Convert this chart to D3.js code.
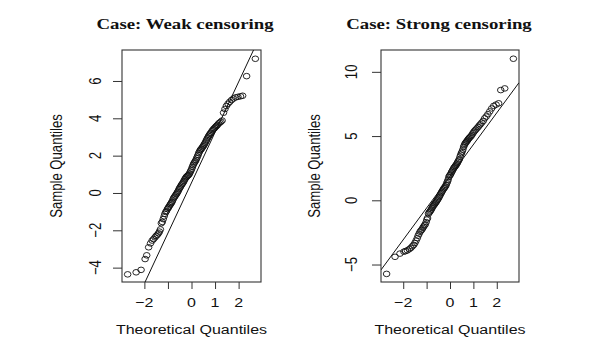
<!DOCTYPE html>
<html>
<head>
<meta charset="utf-8">
<script src="https://cdn.jsdelivr.net/npm/d3@7"></script>
<style>
  body { margin: 0; background: #fff; }
  text { font-family: "Liberation Sans", Arial, sans-serif; fill: #111; }
</style>
</head>
<body>
<script>
// Two normal QQ plots side by side (weak vs strong censoring)

// theoretical quantiles (shared by both panels)
let theoQ = [-2.71, -2.35, -2.14, -1.97, -1.90, -1.82, -1.74, -1.67, -1.61, -1.55,
             -1.50, -1.45, -1.40, -1.36, -1.32, -1.28, -1.24, -1.20, -1.16, -1.13,
             -1.09, -1.06, -1.02, -0.99, -0.96, -0.92, -0.89, -0.86, -0.83, -0.80,
             -0.77, -0.74, -0.71, -0.68, -0.65, -0.62, -0.59, -0.56, -0.53, -0.50,
             -0.47, -0.44, -0.41, -0.38, -0.35, -0.32, -0.29, -0.26, -0.23, -0.20,
             -0.17, -0.14, -0.11, -0.08, -0.05, -0.02, 0.01, 0.04, 0.07, 0.10,
             0.13, 0.16, 0.19, 0.22, 0.25, 0.28, 0.31, 0.34, 0.37, 0.40,
             0.43, 0.46, 0.49, 0.52, 0.55, 0.58, 0.61, 0.64, 0.67, 0.70,
             0.73, 0.76, 0.79, 0.82, 0.86, 0.90, 0.94, 0.98, 1.02, 1.06,
             1.10, 1.15, 1.20, 1.25, 1.30, 1.36, 1.42, 1.48, 1.55, 1.62,
             1.70, 1.78, 1.87, 1.97, 2.08, 2.17, 2.34, 2.71];

// sample quantiles, weak censoring
let weakSample = [-4.36, -4.25, -4.12, -3.54, -3.34, -2.91, -2.70, -2.55, -2.47, -2.38,
                  -2.30, -2.24, -2.16, -2.07, -1.95, -1.62, -1.55, -1.40, -1.25, -1.12,
                  -1.02, -0.96, -0.86, -0.80, -0.74, -0.66, -0.60, -0.54, -0.48, -0.40,
                  -0.30, -0.24, -0.19, -0.13, -0.07, -0.02, 0.05, 0.12, 0.20, 0.27,
                  0.33, 0.40, 0.46, 0.51, 0.57, 0.64, 0.72, 0.78, 0.84, 0.88,
                  0.92, 0.95, 0.99, 1.05, 1.14, 1.21, 1.30, 1.40, 1.50, 1.58,
                  1.64, 1.70, 1.77, 1.86, 1.95, 2.04, 2.14, 2.22, 2.29, 2.34,
                  2.38, 2.44, 2.50, 2.55, 2.62, 2.69, 2.76, 2.84, 2.92, 2.98,
                  3.05, 3.11, 3.17, 3.22, 3.30, 3.37, 3.43, 3.48, 3.54, 3.59,
                  3.64, 3.72, 3.77, 3.82, 3.88, 4.30, 4.50, 4.66, 4.78, 4.88,
                  4.98, 5.06, 5.12, 5.15, 5.18, 5.21, 6.26, 7.19];

// sample quantiles, strong censoring
let strongSample = [-5.73, -4.40, -4.15, -4.00, -3.95, -3.90, -3.80, -3.70, -3.58, -3.47,
                    -3.32, -3.14, -2.95, -2.75, -2.60, -2.45, -2.35, -2.28, -2.15, -2.05,
                    -1.95, -1.88, -1.70, -1.50, -1.38, -1.05, -0.95, -0.88, -0.80, -0.72,
                    -0.60, -0.50, -0.42, -0.35, -0.27, -0.20, -0.12, -0.03, 0.05, 0.14,
                    0.24, 0.35, 0.45, 0.56, 0.66, 0.75, 0.85, 0.93, 1.00, 1.08,
                    1.18, 1.32, 1.45, 1.60, 1.80, 1.92, 1.98, 2.08, 2.20, 2.30,
                    2.40, 2.50, 2.58, 2.65, 2.72, 2.80, 2.90, 3.00, 3.10, 3.20,
                    3.40, 3.55, 3.68, 3.80, 3.95, 4.15, 4.28, 4.40, 4.48, 4.55,
                    4.62, 4.70, 4.78, 4.85, 4.92, 5.00, 5.10, 5.22, 5.33, 5.42,
                    5.50, 5.60, 5.70, 5.82, 5.92, 6.05, 6.18, 6.38, 6.52, 6.70,
                    6.92, 7.15, 7.35, 7.45, 7.55, 8.58, 8.71, 11.02];

// qq reference lines: [intercept, slope]
let weakLine = [0.55, 2.70];
let strongLine = [1.87, 2.47];

let xTicks = [-2, -1, 0, 1, 2];
let xTickLabels = ["\u22122", "", "0", "1", "2"];
let weakYTicks = [-4, -2, 0, 2, 4, 6];
let strongYTicks = [-5, 0, 5, 10];

let titles = ["Case: Weak censoring", "Case: Strong censoring"];
let xLabel = "Theoretical Quantiles";
let yLabel = "Sample Quantiles";

// svg
let svgWidth = 601;
let svgHeight = 351;
let squash = 0.82;   // the original picture is squeezed vertically

let svg = d3.select("body")
            .append("svg")
            .attr("width", svgWidth)
            .attr("height", svgHeight);

let panels = [
    { title: titles[0], sample: weakSample, line: weakLine, yTicks: weakYTicks,
      left: 122, right: 261, yDomain: [-4.77, 7.66], titleX: 185, yTickX: 101, yLabX: 62, id: "c0" },
    { title: titles[1], sample: strongSample, line: strongLine, yTicks: strongYTicks,
      left: 381, right: 519, yDomain: [-6.36, 11.7], titleX: 439, yTickX: 357, yLabX: 320, id: "c1" }
];

let plotTop = 50, plotBottom = 282;

function fmt(v) {
    return v < 0 ? "\u2212" + Math.abs(v) : String(v);
}

panels.forEach(function(p) {
    let x = d3.scaleLinear().domain([-2.95, 2.95]).range([p.left, p.right]);
    let y = d3.scaleLinear().domain(p.yDomain).range([plotBottom, plotTop]);

    let g = svg.append("g");

    g.append("clipPath").attr("id", p.id)
     .append("rect")
     .attr("x", p.left).attr("y", plotTop)
     .attr("width", p.right - p.left).attr("height", plotBottom - plotTop);

    // x axis
    let xAxis = g.append("g")
                 .attr("transform", `translate(0, ${plotBottom})`)
                 .call(d3.axisBottom(x).tickValues(xTicks).tickSize(7));
    xAxis.select(".domain").remove();
    xAxis.selectAll("line").attr("stroke", "#333");
    xAxis.selectAll("text").remove();
    g.selectAll(".xlab")
     .data(xTicks)
     .enter()
     .append("text")
     .attr("transform", d => `translate(${x(d)}, 307) scale(1, ${squash})`)
     .attr("text-anchor", "middle")
     .attr("font-size", "16px")
     .text((d, i) => xTickLabels[i]);

    // y axis
    let yAxis = g.append("g")
                 .attr("transform", `translate(${p.left}, 0)`)
                 .call(d3.axisLeft(y).tickValues(p.yTicks).tickSize(9));
    yAxis.select(".domain").remove();
    yAxis.selectAll("line").attr("stroke", "#333");
    yAxis.selectAll("text").remove();
    g.selectAll(".ylab")
     .data(p.yTicks)
     .enter()
     .append("text")
     .attr("transform", d => `translate(${p.yTickX}, ${y(d)}) scale(1, ${squash}) rotate(-90)`)
     .attr("text-anchor", "middle")
     .attr("font-size", "16px")
     .text(d => fmt(d));

    // box
    g.append("rect")
     .attr("x", p.left).attr("y", plotTop)
     .attr("width", p.right - p.left).attr("height", plotBottom - plotTop)
     .attr("fill", "none")
     .attr("stroke", "#333")
     .attr("stroke-width", 1.1);

    // reference line
    g.append("path")
     .datum(x.domain())
     .attr("clip-path", `url(#${p.id})`)
     .attr("d", d3.line().x(d => x(d)).y(d => y(p.line[0] + p.line[1] * d)))
     .attr("stroke", "#111")
     .attr("stroke-width", 1)
     .attr("fill", "none");

    // points
    g.selectAll("ellipse")
     .data(theoQ)
     .enter()
     .append("ellipse")
     .attr("cx", d => x(d))
     .attr("cy", (d, i) => y(p.sample[i]))
     .attr("rx", 3.3)
     .attr("ry", 2.8)
     .attr("fill", "none")
     .attr("stroke", "#111")
     .attr("stroke-width", 0.9);

    // title and axis labels
    g.append("text")
     .attr("transform", `translate(${p.titleX}, 29) scale(1, ${squash})`)
     .attr("text-anchor", "middle")
     .style("font-family", "'Liberation Serif', 'Times New Roman', serif")
     .attr("font-weight", "bold")
     .attr("font-size", "18.8px")
     .text(p.title);

    g.append("text")
     .attr("transform", `translate(${(p.left + p.right) / 2}, 334) scale(1, ${squash})`)
     .attr("text-anchor", "middle")
     .attr("font-size", "16px")
     .text(xLabel);

    g.append("text")
     .attr("transform", `translate(${p.yLabX}, ${(plotTop + plotBottom) / 2}) scale(1, ${squash}) rotate(-90)`)
     .attr("text-anchor", "middle")
     .attr("font-size", "16px")
     .text(yLabel);
});
</script>
</body>
</html>
